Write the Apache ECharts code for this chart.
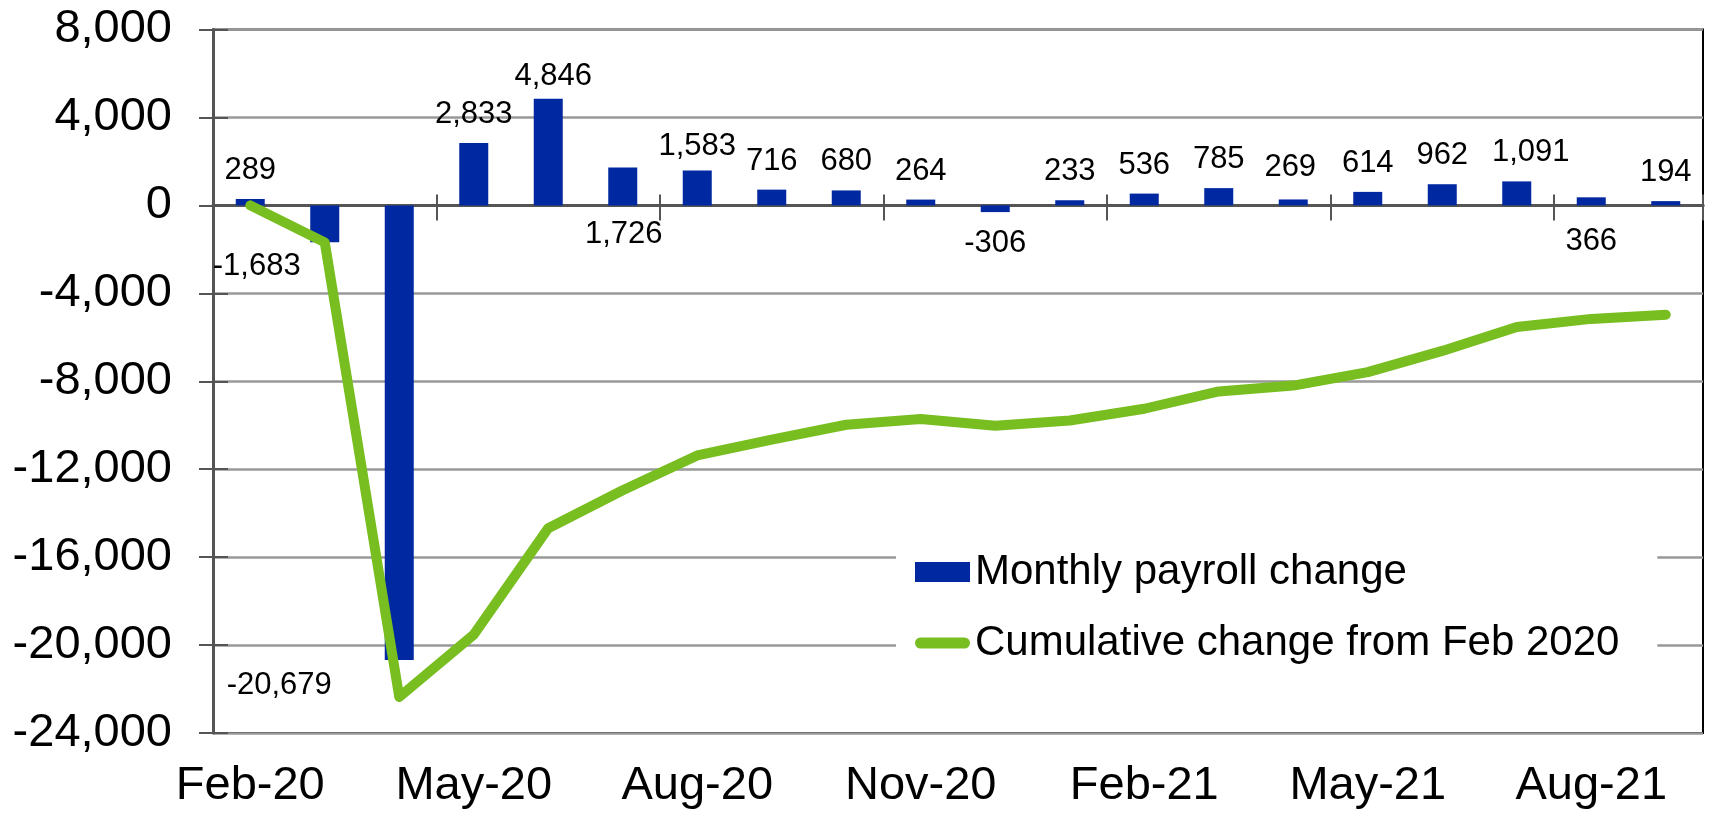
<!DOCTYPE html>
<html>
<head>
<meta charset="utf-8">
<script src="https://cdn.jsdelivr.net/npm/echarts@6/dist/echarts.min.js"></script>
<style>
  html, body { margin: 0; padding: 0; background: #fff; }
  #chart { width: 1709px; height: 814px; }
</style>
</head>
<body>
<div id="chart"></div>
<script>
const months = ['Feb-20', 'Mar-20', 'Apr-20', 'May-20', 'Jun-20', 'Jul-20', 'Aug-20', 'Sep-20', 'Oct-20', 'Nov-20',
    'Dec-20', 'Jan-21', 'Feb-21', 'Mar-21', 'Apr-21', 'May-21', 'Jun-21', 'Jul-21', 'Aug-21', 'Sep-21'];
const monthlyChange = [289, -1683, -20679, 2833, 4846, 1726, 1583, 716, 680, 264,
    -306, 233, 536, 785, 269, 614, 962, 1091, 366, 194];
const cumulativeChange = [0, -1683, -22362, -19529, -14683, -12957, -11374, -10658, -9978, -9714,
    -10020, -9787, -9251, -8466, -8197, -7583, -6621, -5530, -5164, -4970];
const yTicks = { min: -24000, max: 8000, step: 4000 };

const font = 'Liberation Sans, Arial, sans-serif';
const barColor = '#0028a0';
const lineColor = '#78be20';
const axisGray = '#555';

// hand placed labels, as in the original
const labelShift = {
    1: [-68, 0],
    2: [-120, 1],
    4: [5, 6],
    5: [1, 96],
    6: [0, 4],
    10: [0, 7],
    14: [-3, -4],
    17: [14, 0],
    18: [0, 73]
};

const fmt = v => Number(v).toLocaleString('en-US');

const barData = monthlyChange.map((v, i) => ({
    value: v,
    label: {
        position: v < 0 ? 'bottom' : 'top',
        distance: v < 0 ? 9 : 13,
        offset: labelShift[i] || [0, 0]
    }
}));

// same box for every grid, extra grids only carry the crossing ticks
const box = { left: 213, right: 6, top: 29.5, bottom: 81, outerBoundsMode: 'none' };

// helper axes that only draw a zero line / ticks
const tickXAxis = (grid, position, inside, length) => ({
    type: 'category',
    gridIndex: grid,
    data: months,
    position: position,
    axisLine: { show: true, onZero: true, lineStyle: { color: axisGray, width: 3 } },
    axisTick: { show: true, interval: 2, inside: inside, length: length, lineStyle: { color: axisGray, width: 2 } },
    axisLabel: { show: false },
    splitLine: { show: false }
});
const plainYAxis = (grid, tick) => ({
    type: 'value',
    gridIndex: grid,
    position: 'left',
    min: yTicks.min, max: yTicks.max, interval: yTicks.step,
    axisLine: { show: false, onZero: false },
    axisTick: tick ? { show: true, inside: true, length: 15, lineStyle: { color: axisGray, width: 2 } } : { show: false },
    axisLabel: { show: false },
    splitLine: { show: false }
});

const legendLine = 'path://M5.5,0 L49.5,0 A5.5,5.5 0 0 1 49.5,11 L5.5,11 A5.5,5.5 0 0 1 5.5,0 Z';

const chart = echarts.init(document.getElementById('chart'));
chart.setOption({
    animation: false,
    textStyle: { fontFamily: font },
    grid: [
        Object.assign({ show: true, borderColor: '#000', borderWidth: 2 }, box),
        Object.assign({}, box),
        Object.assign({}, box)
    ],
    legend: {
        orient: 'vertical',
        left: 896, top: 545,
        padding: [5, 38, 11, 19],
        backgroundColor: '#fff',
        itemWidth: 55, itemHeight: 20,
        itemGap: 27,
        textStyle: { fontSize: 42, color: '#000', fontFamily: font, lineHeight: 44 },
        data: [
            { name: 'Monthly payroll change', icon: 'rect' },
            { name: 'Cumulative change from Feb 2020', icon: legendLine, itemStyle: { color: lineColor } }
        ]
    },
    xAxis: [{
        type: 'category',
        gridIndex: 0,
        data: months,
        position: 'bottom',
        axisLine: { show: false, onZero: false },
        axisTick: { show: false },
        axisLabel: { interval: 2, margin: 30, fontSize: 47, color: '#000', fontFamily: font }
    },
        tickXAxis(1, 'bottom', false, 15),
        tickXAxis(2, 'top', false, 11)
    ],
    yAxis: [{
        type: 'value',
        gridIndex: 0,
        min: yTicks.min, max: yTicks.max, interval: yTicks.step,
        axisLine: { show: true, onZero: false, lineStyle: { color: axisGray, width: 3 } },
        axisTick: { show: true, length: 14, lineStyle: { color: axisGray, width: 2 } },
        axisLabel: { margin: 41, fontSize: 47, color: '#000', fontFamily: font, formatter: fmt },
        splitLine: { lineStyle: { color: '#999', width: 2.5 } }
    },
        plainYAxis(1, true),
        plainYAxis(2, false)
    ],
    series: [{
        name: 'Monthly payroll change',
        type: 'bar',
        data: barData,
        barWidth: 29,
        itemStyle: { color: barColor },
        label: {
            show: true,
            fontSize: 31,
            color: '#000',
            fontFamily: font,
            formatter: p => fmt(p.value)
        }
    }, {
        name: 'Cumulative change from Feb 2020',
        type: 'line',
        data: cumulativeChange,
        symbol: 'none',
        z: 5,
        itemStyle: { color: lineColor },
        lineStyle: { color: lineColor, width: 10, cap: 'round', join: 'round' }
    }]
});
</script>
</body>
</html>
